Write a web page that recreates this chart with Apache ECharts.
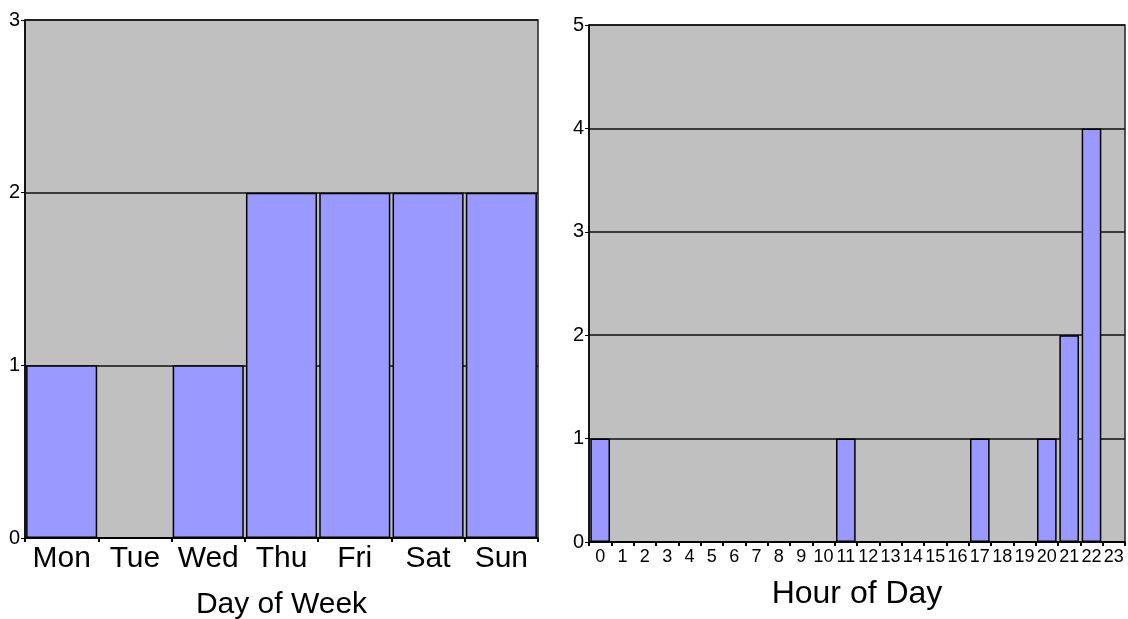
<!DOCTYPE html>
<html>
<head>
<meta charset="utf-8">
<script src="https://cdn.jsdelivr.net/npm/echarts@6/dist/echarts.min.js"></script>
<style>
html,body{margin:0;padding:0;background:#fff;}
#c{width:1128px;height:619px;}
</style>
</head>
<body>
<div id="c"></div>
<script>
const dayCategories = ['Mon','Tue','Wed','Thu','Fri','Sat','Sun'];
const dayValues = [1, 0, 1, 2, 2, 2, 2];
const hourCategories = ['0','1','2','3','4','5','6','7','8','9','10','11','12','13','14','15','16','17','18','19','20','21','22','23'];
const hourValues = [1,0,0,0,0,0,0,0,0,0,0,1,0,0,0,0,0,1,0,0,1,2,4,0];
const dayYTicks = {min: 0, max: 3, interval: 1};
const hourYTicks = {min: 0, max: 5, interval: 1};

const FONT = "'Liberation Sans', Arial, sans-serif";

const chart = echarts.init(document.getElementById('c'), null, {renderer: 'canvas'});

function xAx(idx, data, fs, margin, name, nameFs, nameGap) {
  return {
    type: 'category', gridIndex: idx, data: data, boundaryGap: true,
    axisLine: {show: true, lineStyle: {color: '#000', width: 1.5}},
    axisTick: {show: true, length: 4, lineStyle: {color: '#000', width: 2}},
    axisLabel: {interval: 0, fontSize: fs, color: '#000', margin: margin, fontFamily: FONT},
    name: name, nameLocation: 'middle', nameGap: nameGap,
    nameTextStyle: {fontSize: nameFs, color: '#000', fontFamily: FONT}
  };
}
function yAx(idx, t) {
  return {
    type: 'value', gridIndex: idx, min: t.min, max: t.max, interval: t.interval,
    axisLine: {show: true, lineStyle: {color: '#000', width: 1.5}},
    axisTick: {show: true, length: 4, lineStyle: {color: '#000', width: 1}},
    axisLabel: {fontSize: 20, color: '#000', margin: 5, fontFamily: FONT},
    splitLine: {show: true, lineStyle: {color: '#111', width: 1.5}}
  };
}

chart.setOption({
  animation: false,
  grid: [
    {left: 25, right: 590, top: 20, bottom: 81, show: true, backgroundColor: '#c0c0c0', borderColor: '#222', borderWidth: 1.5, outerBoundsMode: 'none', containLabel: false},
    {left: 589, right: 3, top: 25, bottom: 77, show: true, backgroundColor: '#c0c0c0', borderColor: '#222', borderWidth: 1.5, outerBoundsMode: 'none', containLabel: false}
  ],
  xAxis: [
    xAx(0, dayCategories, 30, 6, 'Day of Week', 30, 52),
    xAx(1, hourCategories, 18, 6, 'Hour of Day', 32, 36)
  ],
  yAxis: [yAx(0, dayYTicks), yAx(1, hourYTicks)],
  series: [
    {type: 'bar', xAxisIndex: 0, yAxisIndex: 0, data: dayValues, barCategoryGap: '3%',
     itemStyle: {color: '#9999ff', borderColor: '#000', borderWidth: 1.5}},
    {type: 'bar', xAxisIndex: 1, yAxisIndex: 1, data: hourValues, barCategoryGap: '12%',
     itemStyle: {color: '#9999ff', borderColor: '#000', borderWidth: 1.5}}
  ]
});
</script>
</body>
</html>
